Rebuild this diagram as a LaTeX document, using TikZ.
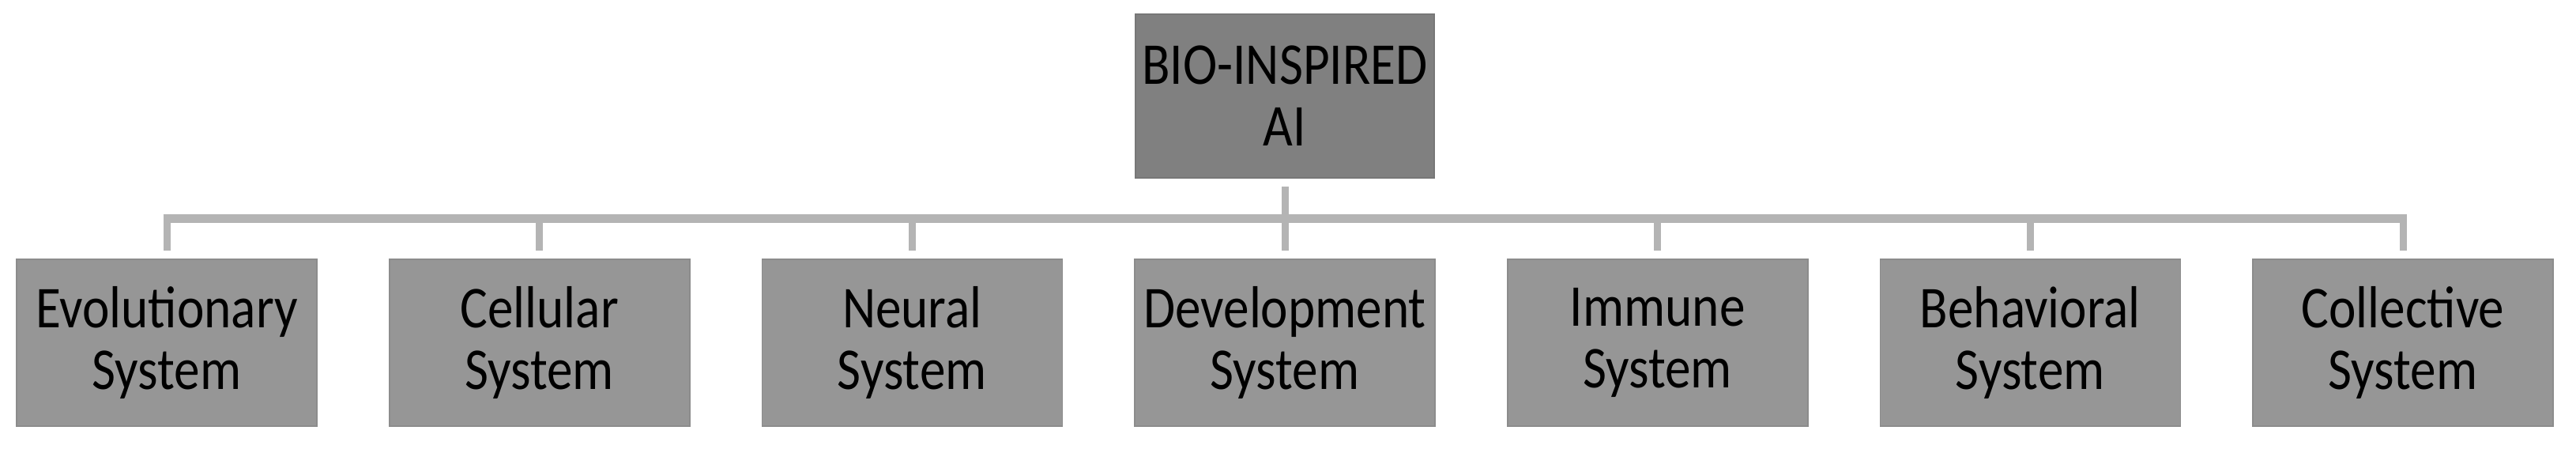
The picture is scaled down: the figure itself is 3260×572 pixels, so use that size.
\documentclass[tikz,border=0pt]{standalone}
\usepackage{fontspec}
\setmainfont{Carlito}[FakeStretch=0.87]
\tikzset{
  topbox/.style={rectangle, fill=boxdark, draw=boxdarkedge, line width=0.4pt,
    minimum width=94.5pt, minimum height=51.75pt, inner sep=0pt,
    align=center, font=\fontsize{18.75}{19.5}\selectfont},
  subbox/.style={rectangle, fill=boxlight, draw=boxlightedge, line width=0.4pt,
    minimum width=95pt, minimum height=52.75pt, inner sep=0pt,
    align=center, font=\fontsize{18.75}{19.5}\selectfont},
  barline/.style={draw=linegray, line width=2.75pt},
  dropline/.style={draw=linegray, line width=2.25pt}
}
\definecolor{boxdark}{HTML}{808080}
\definecolor{boxdarkedge}{HTML}{777777}
\definecolor{boxlight}{HTML}{969696}
\definecolor{boxlightedge}{HTML}{8C8C8C}
\definecolor{linegray}{HTML}{B4B4B4}
\begin{document}
\begin{tikzpicture}[x=0.25pt,y=-0.25pt]
\useasboundingbox[fill=white] (0,0) rectangle (3260,572);
\node[topbox] (top) at (1626,121.5) {BIO-INSPIRED\\AI};
\node[subbox] (b1) at (211,433.5) {Evolutionary\\System};
\node[subbox] (b2) at (682.7,433.5) {Cellular\\System};
\node[subbox] (b3) at (1154.3,433.5) {Neural\\System};
\node[subbox] (b4) at (1626,433.5) {Development\\System};
\node[subbox] (b5) at (2097.7,433.5) {Immune\\System};
\node[subbox] (b6) at (2569.3,433.5) {Behavioral\\System};
\node[subbox] (b7) at (3041,433.5) {Collective\\System};
\coordinate (bary) at (0,276);
\coordinate (barL) at ([xshift=-1.125pt]b1 |- bary);
\coordinate (barR) at ([xshift=1.125pt]b7 |- bary);
\draw[barline] (barL) -- (barR);
\foreach \n in {b1,b2,b3,b5,b6,b7}{
  \draw[dropline, shorten >=2.5pt] ([yshift=1.375pt]\n |- bary) -- (\n.north);
}
\draw[dropline, shorten <=2.5pt, shorten >=2.5pt] (top.south) -- (b4.north);
\end{tikzpicture}
\end{document}
